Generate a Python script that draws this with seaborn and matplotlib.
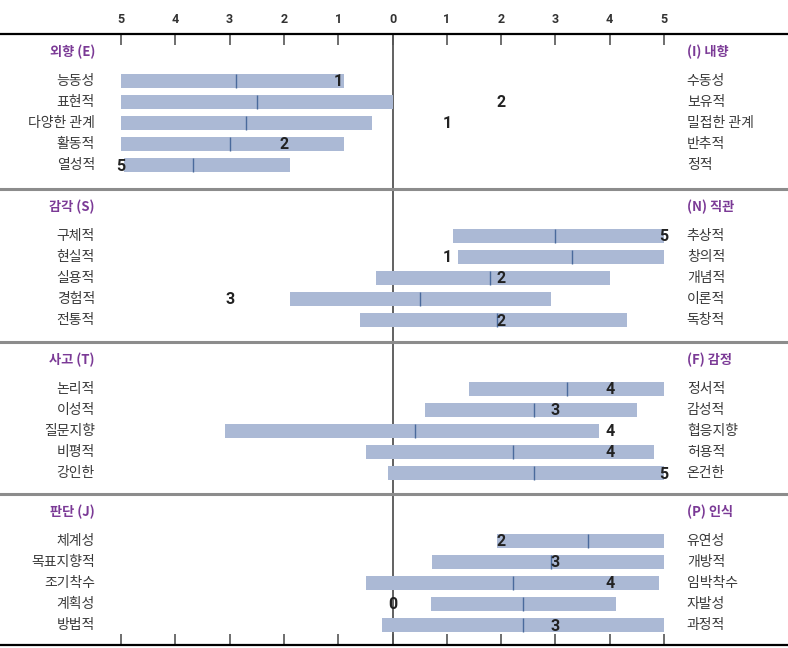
import matplotlib
matplotlib.use("Agg")
import matplotlib.pyplot as plt
import numpy as np
import pandas as pd
import seaborn as sns

# 척도 4개 (왼쪽 극 / 오른쪽 극)
headers_left = ['외향 (E)', '감각 (S)', '사고 (T)', '판단 (J)']
headers_right = ['(I) 내향', '(N) 직관', '(F) 감정', '(P) 인식']

facets_left = [
    ['능동성', '표현적', '다양한 관계', '활동적', '열성적'],
    ['구체적', '현실적', '실용적', '경험적', '전통적'],
    ['논리적', '이성적', '질문지향', '비평적', '강인한'],
    ['체계성', '목표지향적', '조기착수', '계획성', '방법적'],
]
facets_right = [
    ['수동성', '보유적', '밀접한 관계', '반추적', '정적'],
    ['추상적', '창의적', '개념적', '이론적', '독창적'],
    ['정서적', '감성적', '협응지향', '허용적', '온건한'],
    ['유연성', '개방적', '임박착수', '자발성', '과정적'],
]

# 범위 막대 (음수 = 왼쪽 극)
bar_start = [
    [-5.0, -5.0, -5.0, -5.0, -4.95],
    [1.11, 1.21, -0.30, -1.89, -0.59],
    [1.41, 0.60, -3.09, -0.49, -0.09],
    [1.92, 0.72, -0.49, 0.70, -0.20],
]
bar_end = [
    [-0.89, 0.0, -0.38, -0.89, -1.89],
    [5.0, 5.0, 4.0, 2.91, 4.32],
    [5.0, 4.51, 3.80, 4.82, 5.0],
    [5.0, 5.0, 4.91, 4.11, 5.0],
]
# 평균 표시
mean_mark = [
    [-2.89, -2.50, -2.69, -2.99, -3.68],
    [3.00, 3.30, 1.80, 0.51, 1.92],
    [3.21, 2.61, 0.41, 2.21, 2.61],
    [3.60, 2.91, 2.21, 2.41, 2.41],
]
# 개인 점수 (부호 = 방향)
score = [
    [-1, 2, 1, -2, -5],
    [5, 1, 2, -3, 2],
    [4, 3, 4, 4, 5],
    [2, 3, 4, 0, 3],
]

tick_vals = [-5, -4, -3, -2, -1, 0, 1, 2, 3, 4, 5]
tick_text = [str(abs(v)) for v in tick_vals]

sns.set_theme(style="white")
plt.rcParams['font.family'] = ['Noto Sans CJK KR', 'DejaVu Sans']

BAR = '#abb9d5'
MARK = '#4a6a9c'
PURPLE = '#7b3a96'
TEXT = '#3a3a3a'

W, H = 788, 648
fig = plt.figure(figsize=(W / 100, H / 100), dpi=100)

# 패널 경계 (픽셀, 위에서부터)
edges = [34, 189, 342, 494, 645]
px_per_unit = 54.3
x0 = 392.5
xlim = (-x0 / px_per_unit, (W - x0) / px_per_unit)
row_px = 21.1
top_off = -2.22

for k in range(4):
    top, bot = edges[k], edges[k + 1]
    ax = fig.add_axes([0, 1 - bot / H, 1, (bot - top) / H])
    ax.set_xlim(*xlim)
    ax.set_ylim(top_off + (bot - top) / row_px, top_off)

    df = pd.DataFrame({
        'row': np.arange(5),
        'start': bar_start[k],
        'end': bar_end[k],
        'mean': mean_mark[k],
        'score': score[k],
    })

    ax.barh(df['row'], df['end'] - df['start'], left=df['start'],
            height=0.67, color=BAR, edgecolor='none', zorder=2)
    sns.scatterplot(data=df, x='mean', y='row', marker='|', s=105,
                    color=MARK, linewidth=1.0, ax=ax, zorder=3, legend=False)
    ax.axvline(0, color='#555555', lw=1.3, zorder=1)

    for i, r in df.iterrows():
        ax.text(r['score'], r['row'] + 0.04, str(abs(int(r['score']))),
                ha='center', va='center', fontsize=11.5, fontweight='bold',
                color='#222222', family=['Roboto', 'DejaVu Sans'], zorder=4)
        ax.text(-5.48, r['row'], facets_left[k][i], ha='right', va='center',
                fontsize=10, color=TEXT)
        ax.text(5.42, r['row'], facets_right[k][i], ha='left', va='center',
                fontsize=10, color=TEXT)

    ax.text(-5.48, -1.35, headers_left[k], ha='right', va='center',
            fontsize=9.5, color=PURPLE, fontweight='bold')
    ax.text(5.42, -1.35, headers_right[k], ha='left', va='center',
            fontsize=9.5, color=PURPLE, fontweight='bold')

    ax.set_xlabel('')
    ax.set_ylabel('')
    ax.set_yticks([])
    for side in ['left', 'right']:
        ax.spines[side].set_visible(False)
    ax.spines['bottom'].set_visible(False)
    if k == 0:
        ax.spines['top'].set_color('black')
        ax.spines['top'].set_linewidth(1.6)
    else:
        ax.spines['top'].set_color('#8c8c8c')
        ax.spines['top'].set_linewidth(2.2)

    ax.set_xticks(tick_vals)
    if k == 0:
        ax.xaxis.tick_top()
        ax.set_xticklabels(tick_text, fontweight='bold', fontsize=9,
                           color='#333333', family=['Roboto', 'DejaVu Sans'])
        ax.tick_params(axis='x', direction='in', length=8, width=1.2,
                       color='#555555', pad=6, top=True, bottom=False)
    elif k == 3:
        ax.spines['bottom'].set_visible(True)
        ax.spines['bottom'].set_color('black')
        ax.spines['bottom'].set_linewidth(1.6)
        ax.set_xticklabels([])
        ax.tick_params(axis='x', direction='in', length=8, width=1.2,
                       color='#555555', bottom=True, top=False)
    else:
        ax.tick_params(axis='x', length=0, labelbottom=False)

fig.savefig('out.png', dpi=100)
